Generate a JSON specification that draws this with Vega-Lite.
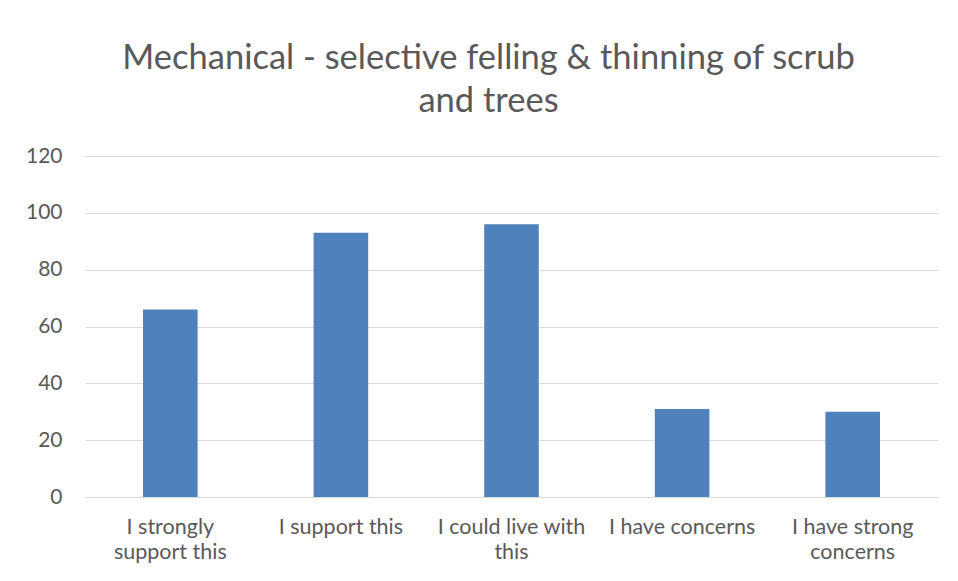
{
  "$schema": "https://vega.github.io/schema/vega-lite/v6.json",
  "autosize": "none",
  "width": 853,
  "height": 341,
  "padding": {"left": 85, "top": 156, "right": 20, "bottom": 84},
  "background": "white",
  "data": {
    "values": [
      {"response": "I strongly support this", "count": 66},
      {"response": "I support this", "count": 93},
      {"response": "I could live with this", "count": 96},
      {"response": "I have concerns", "count": 31},
      {"response": "I have strong concerns", "count": 30}
    ]
  },
  "title": {
    "text": ["Mechanical - selective felling & thinning of scrub", "and trees"],
    "font": "Lato",
    "fontSize": 34.5,
    "fontWeight": "normal",
    "color": "#595959",
    "lineHeight": 43,
    "anchor": "middle",
    "dx": -23,
    "offset": 26
  },
  "mark": {"type": "bar", "color": "#4F81BD"},
  "encoding": {
    "x": {
      "field": "response",
      "type": "nominal",
      "sort": null,
      "scale": {"paddingInner": 0.68, "paddingOuter": 0.34},
      "axis": {
        "title": null,
        "labelAngle": 0,
        "ticks": false,
        "domainColor": "#d9d9d9",
        "domainWidth": 1,
        "labelFont": "Lato",
        "labelFontSize": 21.5,
        "labelColor": "#595959",
        "labelPadding": 19,
        "labelLineHeight": 25,
        "labelExpr": "datum.value == 'I strongly support this' ? ['I strongly', 'support this'] : datum.value == 'I could live with this' ? ['I could live with', 'this'] : datum.value == 'I have strong concerns' ? ['I have strong', 'concerns'] : datum.value"
      }
    },
    "y": {
      "field": "count",
      "type": "quantitative",
      "scale": {"domain": [0, 120]},
      "axis": {
        "title": null,
        "values": [0, 20, 40, 60, 80, 100, 120],
        "ticks": false,
        "domain": false,
        "gridColor": "#d9d9d9",
        "gridWidth": 1,
        "labelFont": "Lato",
        "labelFontSize": 21,
        "labelColor": "#595959",
        "labelPadding": 23
      }
    }
  },
  "config": {
    "view": {"stroke": null}
  }
}
